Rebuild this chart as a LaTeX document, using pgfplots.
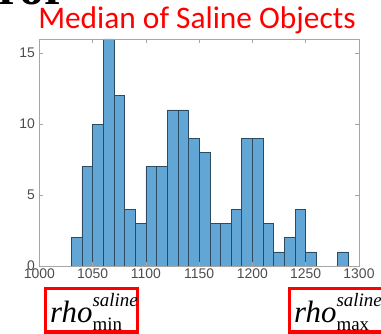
\documentclass[border=0pt]{standalone}
\usepackage{pgfplots}
\pgfplotsset{compat=1.18}
\usepackage{fontspec}
\setmainfont{Liberation Serif}
\newfontfamily\carlito{Carlito}
\newfontfamily\ticksans{Liberation Sans}
\definecolor{barfill}{HTML}{62A6D6}
\definecolor{baredge}{HTML}{2C4A60}
\definecolor{axgray}{HTML}{A6A6A6}
\definecolor{ticktext}{HTML}{4D4D4D}
\begin{document}
\begin{tikzpicture}[x=1bp,y=1bp]
\useasboundingbox (0,0) rectangle (381,334);
\node[anchor=base west,inner sep=0pt,font=\fontsize{50}{50}\selectfont\bfseries] at (-2,330) {ror};
\node[anchor=base,inner sep=0pt,text=red,font=\carlito\fontsize{31.5}{31.5}\selectfont] at (197,306) {Median of Saline Objects};
\begin{axis}[
  at={(39.3bp,68bp)}, anchor=south west,
  width=319.7bp, height=227bp, scale only axis,
  xmin=1000, xmax=1300, ymin=0, ymax=16,
  xtick={1000,1050,...,1300}, ytick={0,5,10,15},
  tick pos=both, tick align=inside,
  major tick length=4bp,
  axis line style={axgray, line width=0.8pt},
  tick style={axgray, line width=0.6pt},
  ticklabel style={font=\ticksans\fontsize{14}{14}\selectfont, text=ticktext},
  /pgf/number format/assume math mode=true,
  /pgf/number format/1000 sep={},
  xticklabel style={yshift=1bp},
  yticklabel style={xshift=-1bp},
  axis on top,
]
\addplot[ybar interval, fill=barfill, draw=baredge, line width=0.6pt] coordinates {
(1030,2) (1040,7) (1050,10) (1060,16) (1070,12) (1080,4) (1090,3)
(1100,7) (1110,7) (1120,11) (1130,11) (1140,9) (1150,8) (1160,3)
(1170,3) (1180,4) (1190,9) (1200,9) (1210,3) (1220,1) (1230,2)
(1240,4) (1250,1) (1260,0) (1270,0) (1280,1) (1290,1)
};
\end{axis}
\draw[red, line width=3bp] (45.5,2) rectangle (137.5,45.5);
\draw[red, line width=3bp] (289.5,2) rectangle (390,45.5);
\node[anchor=base west,inner sep=0pt] at (50,12) {\fontsize{31}{31}\selectfont\textit{rho}\rlap{\raisebox{16bp}{\fontsize{19}{19}\selectfont\textit{saline}}}\raisebox{-8bp}{\fontsize{19}{19}\selectfont min}};
\node[anchor=base west,inner sep=0pt] at (294,12) {\fontsize{31}{31}\selectfont\textit{rho}\rlap{\raisebox{16bp}{\fontsize{19}{19}\selectfont\textit{saline}}}\raisebox{-8bp}{\fontsize{19}{19}\selectfont max}};
\end{tikzpicture}
\end{document}
